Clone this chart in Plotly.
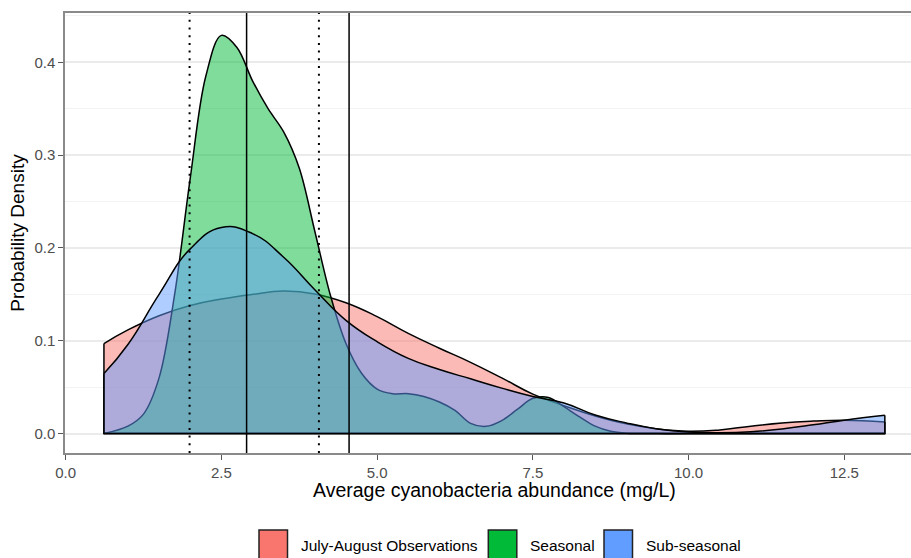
import plotly.graph_objects as go

# Kernel density estimates of average cyanobacteria abundance (mg/L)
obs_x = [0.615, 1.0, 1.5, 2.0, 2.5, 3.0, 3.5, 4.0, 4.5, 5.0, 5.5, 6.0, 6.5, 7.0, 7.5,
         8.0, 8.5, 9.0, 9.5, 10.0, 10.5, 11.0, 11.5, 12.0, 12.5, 13.15]
obs_y = [0.097, 0.1117, 0.127, 0.138, 0.145, 0.150, 0.1535, 0.1505, 0.141, 0.126, 0.108,
         0.092, 0.0768, 0.060, 0.0425, 0.030, 0.019, 0.0105, 0.005, 0.0025, 0.004, 0.008,
         0.0115, 0.0135, 0.0145, 0.0125]

seasonal_x = [0.615, 1.0, 1.25, 1.5, 1.75, 2.0, 2.25, 2.5, 2.75, 3.0, 3.25, 3.5, 3.75,
              4.0, 4.25, 4.5, 4.75, 5.0, 5.25, 5.5, 5.75, 6.0, 6.25, 6.5, 6.75, 7.0,
              7.25, 7.5, 7.75, 8.0, 8.25, 8.5, 8.75, 9.0, 9.5, 10.0, 11.0, 12.0, 13.15]
seasonal_y = [0.0, 0.008, 0.021, 0.060, 0.150, 0.275, 0.385, 0.429, 0.416, 0.380, 0.350,
              0.325, 0.286, 0.218, 0.149, 0.097, 0.065, 0.048, 0.043, 0.043, 0.040, 0.034,
              0.025, 0.011, 0.0078, 0.014, 0.026, 0.038, 0.039, 0.029, 0.018, 0.008,
              0.0025, 0.0005, 0.0, 0.0, 0.0, 0.0, 0.0]

subseasonal_x = [0.615, 1.0, 1.5, 2.0, 2.5, 3.0, 3.5, 4.0, 4.5, 5.0, 5.5, 6.0, 6.5, 7.0,
                 7.5, 8.0, 8.5, 9.0, 9.5, 10.0, 10.5, 11.0, 11.5, 12.0, 12.5, 13.15]
subseasonal_y = [0.0647, 0.096, 0.150, 0.199, 0.222, 0.2155, 0.190, 0.155, 0.122, 0.099,
                 0.081, 0.069, 0.059, 0.049, 0.040, 0.033, 0.020, 0.0115, 0.005, 0.0017,
                 0.001, 0.002, 0.005, 0.0095, 0.0145, 0.0197]

series_names = ["July-August Observations", "Seasonal", "Sub-seasonal"]
series_colors = ["#F8766D", "#00BA38", "#619CFF"]
series_smoothing = [1.3, 1.0, 1.3]

# reference lines (mg/L)
vlines_solid = [2.905, 4.55]
vlines_dotted = [1.99, 4.066]

x_ticks = [0.0, 2.5, 5.0, 7.5, 10.0, 12.5]
y_ticks = [0.0, 0.1, 0.2, 0.3, 0.4]

# page geometry
W, H = 911, 558
ML, MR, MT, MB = 65, 0, 13, 105
PW, PH = W - ML - MR, H - MT - MB
FONT = "Liberation Sans, Arial, Helvetica, sans-serif"


def px_x(px):
    return (px - ML) / PW


def px_y(py):
    return (H - MB - py) / PH


def rgba(hex_color, a):
    h = hex_color.lstrip("#")
    r, g, b = int(h[0:2], 16), int(h[2:4], 16), int(h[4:6], 16)
    return f"rgba({r},{g},{b},{a})"


fig = go.Figure()

series = [(obs_x, obs_y), (seasonal_x, seasonal_y), (subseasonal_x, subseasonal_y)]
for (xs, ys), name, col, sm in zip(series, series_names, series_colors, series_smoothing):
    # filled density curve
    fig.add_trace(go.Scatter(
        x=xs, y=ys, name=name, mode="lines",
        line=dict(color="black", width=1.5, shape="spline", smoothing=sm),
        fill="tozeroy", fillcolor=rgba(col, 0.5),
        showlegend=False, hoverinfo="skip",
    ))
    # closing edges of the density polygon (sides and baseline)
    fig.add_trace(go.Scatter(
        x=[xs[0], xs[0], xs[-1], xs[-1]], y=[ys[0], 0, 0, ys[-1]],
        mode="lines", line=dict(color="black", width=1.5),
        showlegend=False, hoverinfo="skip",
    ))

shapes = []
for v in vlines_solid:
    shapes.append(dict(type="line", xref="x", yref="paper", x0=v, x1=v, y0=0, y1=1,
                       line=dict(color="black", width=1.5)))
for v in vlines_dotted:
    shapes.append(dict(type="line", xref="x", yref="paper", x0=v, x1=v, y0=0, y1=1,
                       line=dict(color="black", width=2, dash="2px,5.7px")))

annotations = []
# x-axis title
annotations.append(dict(xref="paper", yref="paper", x=px_x(494), y=px_y(490),
                        xanchor="center", yanchor="middle", showarrow=False,
                        text="Average cyanobacteria abundance (mg/L)",
                        font=dict(family=FONT, size=19.5, color="black")))

# legend keys and labels along the bottom
key_left = [259, 488.3, 604]
key_w = 28.5
label_left = [299.3, 528.3, 644.3]
for kx, lx, name, col in zip(key_left, label_left, series_names, series_colors):
    shapes.append(dict(type="rect", xref="paper", yref="paper",
                       x0=px_x(kx), x1=px_x(kx + key_w), y0=px_y(530), y1=px_y(560),
                       fillcolor=col, line=dict(color="#222222", width=1.5), layer="above"))
    annotations.append(dict(xref="paper", yref="paper", x=px_x(lx), y=px_y(545.5),
                            xanchor="left", yanchor="middle", showarrow=False, text=name,
                            font=dict(family=FONT, size=15.5, color="black")))

fig.update_layout(
    width=W, height=H,
    margin=dict(l=ML, r=MR, t=MT, b=MB, pad=0),
    paper_bgcolor="white", plot_bgcolor="white",
    font=dict(family=FONT),
    shapes=shapes, annotations=annotations,
    showlegend=False,
)

fig.update_xaxes(
    range=[-0.01, 13.57],
    tickvals=x_ticks, ticktext=[f"{t:.1f}" for t in x_ticks],
    ticks="outside", ticklen=5, tickwidth=1.2, tickcolor="#555555",
    tickfont=dict(family=FONT, size=15, color="#4D4D4D"),
    showgrid=False, zeroline=False,
    showline=True, mirror=True, linecolor="#8a8a8a", linewidth=1.5,
)
fig.update_yaxes(
    range=[-0.0209, 0.4531],
    tickvals=y_ticks, ticktext=[f"{t:.1f}" for t in y_ticks],
    ticks="outside", ticklen=5, tickwidth=1.2, tickcolor="#555555",
    tickfont=dict(family=FONT, size=15, color="#4D4D4D"),
    showgrid=True, gridcolor="#EBEBEB", gridwidth=1.5,
    minor=dict(dtick=0.05, tick0=0, showgrid=True, gridcolor="#F3F3F3", gridwidth=1.2),
    zeroline=False,
    showline=True, linecolor="#8a8a8a", linewidth=1.5,
    title=dict(text="Probability Density",
               font=dict(family=FONT, size=19, color="black"), standoff=5),
)

fig.write_html("out.html")
